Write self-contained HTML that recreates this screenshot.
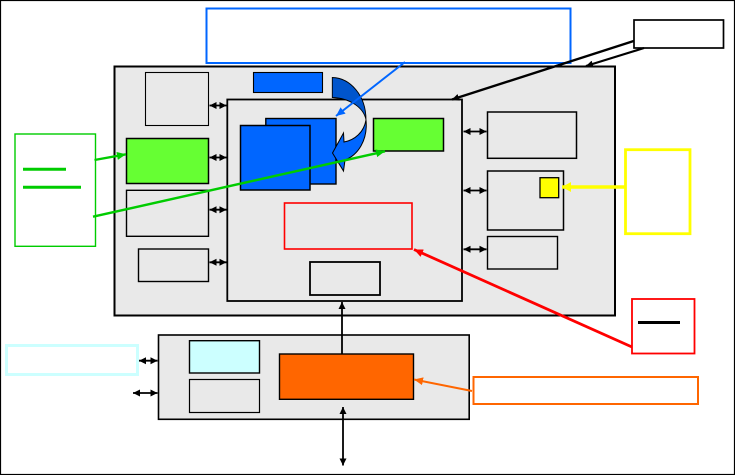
<!DOCTYPE html>
<html>
<head>
<meta charset="utf-8">
<style>
html,body{margin:0;padding:0;background:#fff;width:735px;height:475px;overflow:hidden}
svg{display:block}
</style>
</head>
<body>
<svg width="735" height="475" viewBox="0 0 735 475" xmlns="http://www.w3.org/2000/svg">
<defs>
<marker id="k" markerUnits="userSpaceOnUse" markerWidth="10" markerHeight="8" refX="7" refY="4" orient="auto-start-reverse"><path d="M0,0.5L7,4L0,7.5Z" fill="#000"/></marker>
<marker id="g" markerUnits="userSpaceOnUse" markerWidth="12" markerHeight="10" refX="9" refY="5" orient="auto"><path d="M0,1L9,5L0,9Z" fill="#00cc00"/></marker>
<marker id="b" markerUnits="userSpaceOnUse" markerWidth="12" markerHeight="10" refX="9" refY="5" orient="auto"><path d="M0,1L9,5L0,9Z" fill="#0066ff"/></marker>
<marker id="r" markerUnits="userSpaceOnUse" markerWidth="12" markerHeight="10" refX="9" refY="5" orient="auto"><path d="M0,1L9,5L0,9Z" fill="#ff0000"/></marker>
<marker id="o" markerUnits="userSpaceOnUse" markerWidth="12" markerHeight="10" refX="9" refY="5" orient="auto"><path d="M0,1L9,5L0,9Z" fill="#ff6600"/></marker>
<marker id="y" markerUnits="userSpaceOnUse" markerWidth="12" markerHeight="12" refX="9" refY="6" orient="auto"><path d="M0,1L9,6L0,11Z" fill="#ffff00"/></marker>
</defs>
<rect x="0.5" y="0.5" width="734" height="474" fill="#fff" stroke="#000" stroke-width="1.2"/>

<!-- main container -->
<rect x="114.5" y="66.5" width="500.5" height="249" fill="#e9e9e9" stroke="#000" stroke-width="2"/>
<rect x="227.3" y="99.5" width="234.7" height="201.5" fill="#e9e9e9" stroke="#000" stroke-width="1.8"/>

<!-- notes -->
<rect x="206.5" y="8.5" width="364" height="54.5" fill="#fff" stroke="#0066ff" stroke-width="2"/>
<rect x="634" y="20" width="89.5" height="28" fill="#fff" stroke="#000" stroke-width="1.7"/>
<rect x="15" y="134" width="80.5" height="112.3" fill="#fff" stroke="#00cc00" stroke-width="1.4"/>
<path d="M23,169.3H66M23,187.3H81" stroke="#00cc00" stroke-width="3" fill="none"/>
<rect x="625.5" y="149.7" width="64.5" height="84" fill="#fff" stroke="#ffff00" stroke-width="2.8"/>
<rect x="632" y="299" width="62.5" height="54.5" fill="#fff" stroke="#ff0000" stroke-width="1.8"/>
<path d="M638,322.5H680" stroke="#000" stroke-width="3" fill="none"/>
<rect x="473.5" y="377" width="224.5" height="27" fill="#fff" stroke="#ff6600" stroke-width="2"/>
<rect x="6.5" y="345.5" width="131" height="29" fill="#fff" stroke="#ccffff" stroke-width="3"/>

<!-- left column -->
<rect x="145.5" y="72.5" width="63" height="53" fill="#e9e9e9" stroke="#000" stroke-width="1.1"/>
<rect x="126.5" y="138.5" width="82" height="45" fill="#66ff33" stroke="#000" stroke-width="1.5"/>
<rect x="126.5" y="190.3" width="82" height="46" fill="#e9e9e9" stroke="#000" stroke-width="1.4"/>
<rect x="138.5" y="249" width="70" height="32.5" fill="#e9e9e9" stroke="#000" stroke-width="1.4"/>
<rect x="253.5" y="72.5" width="69" height="20" fill="#0066ff" stroke="#000" stroke-width="1.1"/>

<!-- inner blocks -->
<rect x="265.8" y="118.5" width="70.2" height="65.5" fill="#0066ff" stroke="#000" stroke-width="1.4"/>
<path d="M332.3,77.5C350,78 366,95 366,120C364,108 350,98 332.3,97.5Z" fill="#0055cc" stroke="#000" stroke-width="0.9"/>
<path d="M366,120C368,140 358,155 345,160L343.5,171L332.5,153L343.5,133L344,142C355,140 364,132 366,120Z" fill="#0066ff" stroke="#000" stroke-width="1"/>
<rect x="240.5" y="125.5" width="69.5" height="64.5" fill="#0066ff" stroke="#000" stroke-width="1.5"/>
<rect x="373.5" y="118.5" width="70" height="32.5" fill="#66ff33" stroke="#000" stroke-width="1.5"/>
<rect x="284.5" y="203" width="127.5" height="46" fill="#e9e9e9" stroke="#ff0000" stroke-width="1.6"/>
<rect x="310" y="262" width="70" height="33" fill="#e9e9e9" stroke="#000" stroke-width="1.8"/>

<!-- right column -->
<rect x="487.5" y="112" width="89" height="46.3" fill="#e9e9e9" stroke="#000" stroke-width="1.5"/>
<rect x="487.5" y="171" width="76" height="59" fill="#e9e9e9" stroke="#000" stroke-width="1.5"/>
<rect x="540" y="177.7" width="18.7" height="20" fill="#ffff00" stroke="#000" stroke-width="1.3"/>
<rect x="487.5" y="236.5" width="70" height="32.5" fill="#e9e9e9" stroke="#000" stroke-width="1.4"/>

<!-- lower container -->
<rect x="158.5" y="335" width="310.7" height="84.3" fill="#e9e9e9" stroke="#000" stroke-width="1.6"/>
<rect x="189.5" y="340.7" width="70" height="32.3" fill="#ccffff" stroke="#000" stroke-width="1.4"/>
<rect x="189.5" y="379.5" width="70" height="33" fill="#e9e9e9" stroke="#000" stroke-width="1.2"/>
<rect x="279.5" y="354" width="134" height="45.3" fill="#ff6600" stroke="#000" stroke-width="1.4"/>

<!-- double arrows -->
<g stroke="#000" stroke-width="1.8" fill="none">
<path d="M209.5,105.5H226.5" marker-start="url(#k)" marker-end="url(#k)"/>
<path d="M209.5,157.5H226.5" marker-start="url(#k)" marker-end="url(#k)"/>
<path d="M209.5,209.7H226.5" marker-start="url(#k)" marker-end="url(#k)"/>
<path d="M209.5,262.3H226.5" marker-start="url(#k)" marker-end="url(#k)"/>
<path d="M463.5,131.5H486.5" marker-start="url(#k)" marker-end="url(#k)"/>
<path d="M463.5,190.5H486.5" marker-start="url(#k)" marker-end="url(#k)"/>
<path d="M463.5,249.3H486.5" marker-start="url(#k)" marker-end="url(#k)"/>
<path d="M139,360.7H157.5" marker-start="url(#k)" marker-end="url(#k)"/>
<path d="M133,393H157.5" marker-start="url(#k)" marker-end="url(#k)"/>
<path d="M343,407V465.5" marker-start="url(#k)" marker-end="url(#k)"/>
<path d="M342,353.5V302" marker-end="url(#k)"/>
</g>

<!-- callout arrows -->
<path d="M405,62L336,116" stroke="#0066ff" stroke-width="2" fill="none" marker-end="url(#b)"/>
<path d="M94.5,160L126,154.3" stroke="#00cc00" stroke-width="2.4" fill="none" marker-end="url(#g)"/>
<path d="M93,216.7L385,151.3" stroke="#00cc00" stroke-width="2.4" fill="none" marker-end="url(#g)"/>
<path d="M633.7,41L452,99.5" stroke="#000" stroke-width="2.4" fill="none" marker-end="url(#k)"/>
<path d="M644,48L586,66" stroke="#000" stroke-width="2.2" fill="none" marker-end="url(#k)"/>
<path d="M625,187H562" stroke="#ffff00" stroke-width="3.4" fill="none" marker-end="url(#y)"/>
<path d="M632,347L414,249.5" stroke="#ff0000" stroke-width="2.8" fill="none" marker-end="url(#r)"/>
<path d="M472,391L414,379.5" stroke="#ff6600" stroke-width="2" fill="none" marker-end="url(#o)"/>
</svg>
</body>
</html>
